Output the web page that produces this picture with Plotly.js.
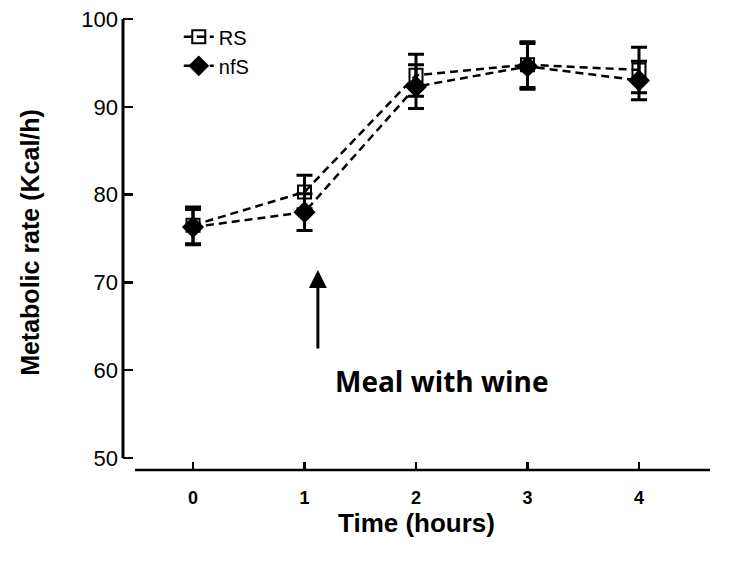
<!DOCTYPE html>
<html>
<head>
<meta charset="utf-8">
<script src="https://cdn.plot.ly/plotly-3.0.1.min.js"></script>
<style>html,body{margin:0;padding:0;background:#fff;}#chart{width:739px;height:561px;}</style>
</head>
<body>
<div id="chart"></div>
<script>
var time = [0, 1, 2, 3, 4];
var tickLabels = ['0', '1', '2', '3', '4'];
var rsValues = [76.5, 80.3, 93.6, 94.8, 94.2];
var rsErrors = [2.1, 1.9, 2.4, 2.6, 2.6];
var nfsValues = [76.3, 78.0, 92.3, 94.6, 93.0];
var nfsErrors = [2.0, 2.1, 2.5, 2.6, 2.2];
var seriesNames = ['RS', 'nfS'];

var F = 'Arial, "Liberation Sans", sans-serif';

var traces = [
  {
    x: time, y: rsValues, name: seriesNames[0], type: 'scatter', mode: 'lines+markers',
    line: {color: '#000', width: 2.5, dash: '8px,5px'},
    marker: {symbol: 'square-open', size: 13, color: '#000', line: {color: '#000', width: 2}},
    error_y: {type: 'data', array: rsErrors, visible: true, color: '#000', thickness: 3, width: 8}
  },
  {
    x: time, y: nfsValues, name: seriesNames[1], type: 'scatter', mode: 'lines+markers',
    line: {color: '#000', width: 2.5, dash: '8px,5px'},
    marker: {symbol: 'diamond', size: 17, color: '#000'},
    error_y: {type: 'data', array: nfsErrors, visible: true, color: '#000', thickness: 3, width: 8}
  }
];

var layout = {
  width: 739, height: 561,
  margin: {l: 123, r: 29, t: 15, b: 91},
  paper_bgcolor: '#fff', plot_bgcolor: '#fff',
  showlegend: true,
  legend: {x: 0.095, y: 0.995, xanchor: 'left', yanchor: 'top', font: {family: F, size: 20, color: '#000'}, bgcolor: 'rgba(0,0,0,0)', tracegroupgap: 0},
  xaxis: {
    range: [-0.628, 4.637], showgrid: false, zeroline: false, showline: false,
    tickmode: 'array', tickvals: time, ticktext: tickLabels,
    ticks: 'inside', ticklen: 8, tickwidth: 2.5, tickcolor: '#000',
    tickfont: {family: F, size: 18, color: '#000', weight: 'bold'},
    ticklabelstandoff: 15,
    title: {text: 'Time (hours)', font: {family: F, size: 26, color: '#000', weight: 'bold'}, standoff: 1}
  },
  yaxis: {
    range: [48.63, 100.46], showgrid: false, zeroline: false, showline: false,
    tickmode: 'array', tickvals: [50, 60, 70, 80, 90, 100],
    ticks: 'inside', ticklen: 10, tickwidth: 2.5, tickcolor: '#000',
    tickfont: {family: F, size: 22, color: '#000'},
    ticklabelstandoff: 4,
    title: {text: 'Metabolic rate (Kcal/h)', font: {family: F, size: 25, color: '#000', weight: 'bold'}, standoff: 34}
  },
  shapes: [
    {type: 'line', xref: 'paper', yref: 'y', x0: 0, x1: 0, y0: 50, y1: 100, line: {color: '#000', width: 3}},
    {type: 'line', xref: 'x', yref: 'paper', x0: -0.52, x1: 4.637, y0: 0, y1: 0, line: {color: '#000', width: 2.5}}
  ],
  annotations: [
    {x: 1.12, y: 71.4, ax: 1.12, ay: 62.3, xref: 'x', yref: 'y', axref: 'x', ayref: 'y',
     showarrow: true, arrowhead: 2, arrowsize: 1.2, arrowwidth: 3, arrowcolor: '#000', text: ''},
    {x: 2.23, y: 58.8, xref: 'x', yref: 'y', showarrow: false, text: 'Meal with wine',
     font: {family: '"Open Sans", sans-serif', size: 28, color: '#000', weight: 'bold'}}
  ]
};

Plotly.newPlot('chart', traces, layout, {displayModeBar: false, staticPlot: true});
</script>
</body>
</html>
